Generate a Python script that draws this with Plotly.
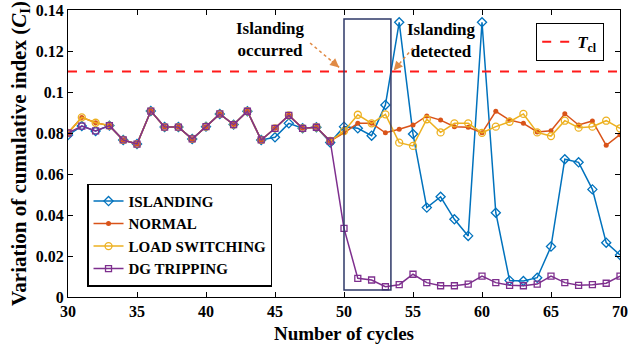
import plotly.graph_objects as go

cycles = list(range(30, 71))

islanding = [0.079, 0.0834, 0.081, 0.0836, 0.0766, 0.0746, 0.0907, 0.0829, 0.0829, 0.0771,
             0.0831, 0.0893, 0.0841, 0.0906, 0.0766, 0.0779, 0.0847, 0.0823, 0.0828, 0.0754,
             0.0831, 0.0823, 0.0787, 0.0937, 0.134, 0.0795, 0.0436, 0.0489, 0.0379, 0.0298,
             0.134, 0.0411, 0.0080, 0.0078, 0.0094, 0.0246, 0.0672, 0.0657, 0.0525, 0.0265,
             0.0205]
normal = [0.08, 0.0876, 0.085, 0.0836, 0.0766, 0.0746, 0.0907, 0.0829, 0.0829, 0.0771,
          0.0831, 0.0893, 0.0841, 0.0906, 0.0766, 0.0823, 0.0886, 0.0823, 0.0828, 0.0761,
          0.0801, 0.0847, 0.0847, 0.0801, 0.0818, 0.0839, 0.0883, 0.0863, 0.0831, 0.0828,
          0.0801, 0.0906, 0.0863, 0.0847, 0.0805, 0.0811, 0.0894, 0.0839, 0.0859, 0.074,
          0.0792]
load_switching = [0.08, 0.0876, 0.085, 0.0836, 0.0766, 0.0746, 0.0907, 0.0829, 0.0829, 0.0771,
                  0.0831, 0.0893, 0.0841, 0.0906, 0.0766, 0.0823, 0.0886, 0.0823, 0.0828, 0.0761,
                  0.0809, 0.0889, 0.0847, 0.0891, 0.0753, 0.0737, 0.0867, 0.0803, 0.0847, 0.0847,
                  0.0801, 0.0831, 0.0855, 0.0893, 0.0803, 0.0785, 0.086, 0.0826, 0.0831, 0.086,
                  0.0823]
dg_tripping = [0.08, 0.0834, 0.081, 0.0836, 0.0766, 0.0746, 0.0907, 0.0829, 0.0829, 0.0771,
               0.0831, 0.0893, 0.0841, 0.0906, 0.0766, 0.0823, 0.0886, 0.0823, 0.0828, 0.0761,
               0.0335, 0.0091, 0.0083, 0.005, 0.006, 0.0111, 0.007, 0.0055, 0.0055, 0.0063,
               0.0102, 0.007, 0.0057, 0.0055, 0.0063, 0.0102, 0.007, 0.0057, 0.006, 0.0067,
               0.0102]
threshold = 0.11

x_ticks = [30, 35, 40, 45, 50, 55, 60, 65, 70]
y_ticks = [0, 0.02, 0.04, 0.06, 0.08, 0.1, 0.12, 0.14]
y_tick_text = ["0", "0.02", "0.04", "0.06", "0.08", "0.1", "0.12", "0.14"]

FONT = "Liberation Serif"
BLUE, RED, YEL, PUR = "#0072BD", "#D95319", "#EDB120", "#7E2F8E"
ARROW = "#E08A45"

fig = go.Figure()
fig.add_trace(go.Scatter(x=cycles, y=islanding, name="<b>ISLANDING</b>", mode="lines+markers",
                         line=dict(color=BLUE, width=1.5),
                         marker=dict(symbol="diamond-open", size=7, color=BLUE, line=dict(width=1.3))))
fig.add_trace(go.Scatter(x=cycles, y=normal, name="<b>NORMAL</b>", mode="lines+markers",
                         line=dict(color=RED, width=1.5),
                         marker=dict(symbol="circle", size=5, color=RED)))
fig.add_trace(go.Scatter(x=cycles, y=load_switching, name="<b>LOAD SWITCHING</b>", mode="lines+markers",
                         line=dict(color=YEL, width=1.5),
                         marker=dict(symbol="circle-open", size=7, color=YEL, line=dict(width=1.3))))
fig.add_trace(go.Scatter(x=cycles, y=dg_tripping, name="<b>DG TRIPPING</b>", mode="lines+markers",
                         line=dict(color=PUR, width=1.5),
                         marker=dict(symbol="square-open", size=6, color=PUR, line=dict(width=1.3))))
fig.add_trace(go.Scatter(x=[cycles[0], cycles[-1]], y=[threshold, threshold],
                         name="<b><i>T</i><sub>cl</sub></b>", mode="lines",
                         line=dict(color="#FF1A1A", width=2, dash="dash"), legend="legend2"))

# highlight rectangle
fig.add_shape(type="rect", x0=50, x1=53.4, y0=0.0034, y1=0.1356,
              line=dict(color="#2E3868", width=1.5), fillcolor="rgba(0,0,0,0)")

# dotted arrows
arrows = [((47.54, 0.1239), (49.65, 0.1120)), ((55.0, 0.1215), (53.6, 0.1105))]
for (xs, ys), (xe, ye) in arrows:
    fig.add_shape(type="line", x0=xs, y0=ys, x1=xe, y1=ye,
                  line=dict(color=ARROW, width=1.5, dash="dot"))
    fig.add_annotation(x=xe, y=ye, ax=xe - (xe - xs) * 0.3, ay=ye - (ye - ys) * 0.3,
                       axref="x", ayref="y", text="", showarrow=True,
                       arrowhead=2, arrowsize=1.2, arrowwidth=1.5, arrowcolor=ARROW)

fig.add_annotation(x=44.65, y=0.1255, text="<b>Islanding<br>occurred</b>", showarrow=False,
                   font=dict(family=FONT, size=17, color="black"), align="center")
fig.add_annotation(x=57.1, y=0.1250, text="<b>Islanding<br>detected</b>", showarrow=False,
                   font=dict(family=FONT, size=17, color="black"), align="center")

axis_common = dict(showline=True, linecolor="black", linewidth=1.2, mirror="allticks",
                   ticks="inside", ticklen=5, tickcolor="black", tickwidth=1.2,
                   showgrid=False, zeroline=False, automargin=False,
                   tickfont=dict(family=FONT, size=16, color="black"))

fig.update_layout(
    width=628, height=354,
    margin=dict(l=68, r=8, t=10, b=57),
    paper_bgcolor="white", plot_bgcolor="white",
    font=dict(family=FONT, color="black"),
    xaxis=dict(range=[30, 70], tickvals=x_ticks, ticktext=["<b>%d</b>" % t for t in x_ticks],
               **axis_common,
               title=dict(text="<b>Number of cycles</b>", font=dict(family=FONT, size=19), standoff=7)),
    yaxis=dict(range=[0, 0.14], tickvals=y_ticks, ticktext=["<b>%s</b>" % t for t in y_tick_text],
               **axis_common,
               title=dict(text="<b>Variation of cumulative index (<i>C</i><sub>I</sub>)</b>",
                          font=dict(family=FONT, size=21), standoff=3)),
    legend=dict(x=0.035, y=0.395, xanchor="left", yanchor="top",
                bordercolor="black", borderwidth=1.2, bgcolor="white",
                font=dict(family=FONT, size=15, color="black"), tracegroupgap=0,
                itemwidth=30),
    legend2=dict(x=0.971, y=0.955, xanchor="right", yanchor="top",
                 bordercolor="black", borderwidth=1.2, bgcolor="white",
                 font=dict(family=FONT, size=17, color="black"), itemwidth=30),
    showlegend=True,
)

fig.write_html("out.html")
